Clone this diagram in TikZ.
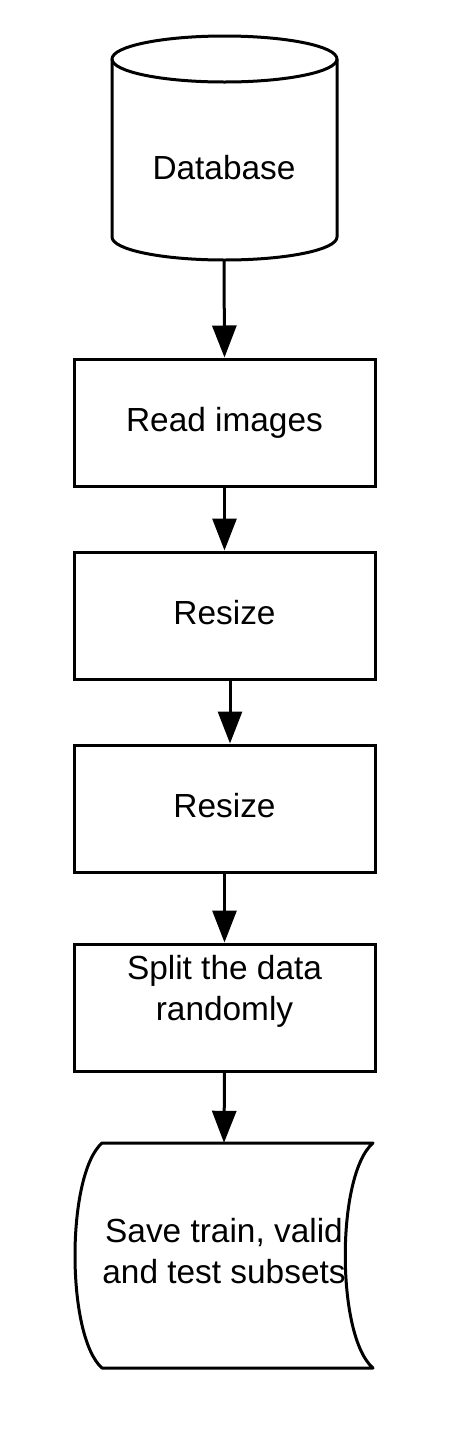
\documentclass[tikz,border=0pt]{standalone}
\usepackage{fontspec}
\setmainfont{Liberation Sans}
\usetikzlibrary{arrows.meta,calc}
\begin{document}
\begin{tikzpicture}[x=1pt,y=-1pt,
  outline/.style={line width=3pt, line join=round},
  stepbox/.style={draw, line width=3pt, minimum width=301pt, minimum height=127pt, inner sep=0pt},
  txt/.style={font=\fontsize{33.4}{41}\selectfont, align=center, inner sep=0pt},
  boxtxt/.style={txt, text height=24.4pt, text depth=7pt},
  conn/.style={line width=3pt, -{Triangle[length=32pt,width=24pt]}}]
\useasboundingbox (0,0) rectangle (450,1444);
% Database cylinder
\draw[outline] (224.5,59) ellipse [x radius=112.5, y radius=23];
\draw[outline] (112,59) -- (112,237) arc[start angle=180, end angle=360, x radius=112.5, y radius=-23] -- (337,59);
\node[txt, minimum width=225pt, minimum height=184pt] (db) at (224,168) {Database};
% Boxes
\node[stepbox, boxtxt] (b1) at (224.5,422.5) {Read images};
\node[stepbox, boxtxt] (b2) at (224.5,615.5) {Resize};
\node[stepbox, boxtxt] (b3) at (224.5,808.5) {Resize};
\node[stepbox] (b4) at (224.5,1007.5) {};
\node[txt, anchor=base] (t4) at ($(b4.north)+(0,78)$) {Split the data\\randomly};
% Stored data shape
\draw[outline] (102,1143) -- (373,1143)
  .. controls (336,1175) and (336,1336) .. (373,1368)
  -- (102,1368)
  .. controls (66,1336) and (66,1175) .. (102,1143) -- cycle;
\node[txt, minimum height=217pt] (s) at (224,1251.5) {Save train, valid\\and test subsets};
% Connectors
\draw[conn] (db.south) -- (b1.north);
\draw[conn] (b1.south) -- (b2.north);
\draw[conn] ([xshift=5.5pt]b2.south) -- ([xshift=5.5pt]b3.north);
\draw[conn] (b3.south) -- (b4.north);
\draw[conn] (b4.south) -- (s.north);
\end{tikzpicture}
\end{document}
